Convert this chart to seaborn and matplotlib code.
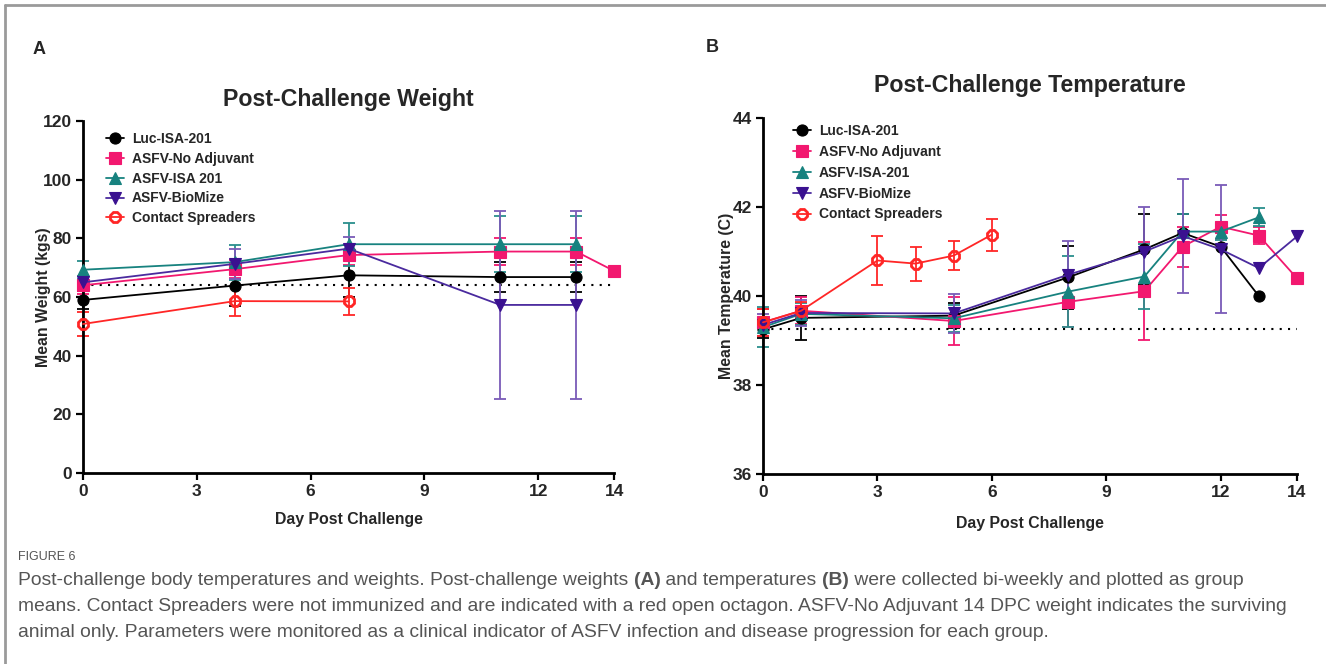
import numpy as np
import matplotlib
matplotlib.use("Agg")
import matplotlib.pyplot as plt
from matplotlib.lines import Line2D
import seaborn as sns

# ---- data ----
GROUPS = ["Luc-ISA-201", "ASFV-No Adjuvant", "ASFV-ISA 201", "ASFV-BioMize", "Contact Spreaders"]
GROUPS_TEMP = ["Luc-ISA-201", "ASFV-No Adjuvant", "ASFV-ISA-201", "ASFV-BioMize", "Contact Spreaders"]

# weight (kgs)
w_days = {
    "luc": [0, 4, 7, 11, 13],
    "noadj": [0, 4, 7, 11, 13, 14],
    "isa": [0, 4, 7, 11, 13],
    "bio": [0, 4, 7, 11, 13],
    "contact": [0, 4, 7],
}
w_mean = {
    "luc": [59.0, 63.9, 67.4, 66.8, 66.8],
    "noadj": [64.0, 69.5, 74.3, 75.5, 75.5, 68.9],
    "isa": [69.3, 71.9, 78.0, 78.0, 78.0],
    "bio": [65.0, 71.3, 76.5, 57.3, 57.3],
    "contact": [50.8, 58.6, 58.5],
}
w_err = {
    "luc": [3.0, 7.0, 7.5, 5.0, 5.0],
    "noadj": [3.0, 3.0, 3.5, 4.5, 4.5, 0.0],
    "isa": [3.0, 6.0, 7.4, 9.5, 9.5],
    "bio": [2.0, 5.0, 4.0, 32.0, 32.0],
    "contact": [4.0, 5.0, 4.5],
}
w_baseline = 64.0

# temperature (C)
t_days = {
    "luc": [0, 1, 5, 8, 10, 11, 12, 13],
    "noadj": [0, 1, 5, 8, 10, 11, 12, 13, 14],
    "isa": [0, 1, 5, 8, 10, 11, 12, 13],
    "bio": [0, 1, 5, 8, 10, 11, 12, 13, 14],
    "contact": [0, 1, 3, 4, 5, 6],
}
t_mean = {
    "luc": [39.25, 39.51, 39.56, 40.42, 41.05, 41.42, 41.11, 40.0],
    "noadj": [39.41, 39.67, 39.44, 39.87, 40.11, 41.11, 41.56, 41.36, 40.40],
    "isa": [39.3, 39.6, 39.5, 40.10, 40.44, 41.45, 41.45, 41.77],
    "bio": [39.35, 39.62, 39.61, 40.48, 41.0, 41.35, 41.05, 40.63, 41.34],
    "contact": [39.41, 39.67, 40.80, 40.73, 40.91, 41.38],
}
t_err = {
    "luc": [0.2, 0.49, 0.28, 0.7, 0.8, 0.43, 0.0, 0.0],
    "noadj": [0.3, 0.3, 0.53, 0.57, 1.1, 0.45, 0.27, 0.2, 0.0],
    "isa": [0.45, 0.25, 0.3, 0.8, 0.72, 0.4, 0.2, 0.2],
    "bio": [0.25, 0.3, 0.44, 0.75, 1.0, 1.28, 1.44, 0.0, 0.0],
    "contact": [0.3, 0.2, 0.54, 0.38, 0.33, 0.36],
}
t_baseline = 39.25

x_ticks = [0, 3, 6, 9, 12, 14]
w_yticks = [0, 20, 40, 60, 80, 100, 120]
t_yticks = [36, 38, 40, 42, 44]

KEYS = ["luc", "noadj", "isa", "bio", "contact"]
STYLE = {
    "luc": dict(color="#000000", ecolor="#000000", marker="o", ms=8, mfc="#000000"),
    "noadj": dict(color="#F2186F", ecolor="#F2186F", marker="s", ms=8, mfc="#F2186F"),
    "isa": dict(color="#17827F", ecolor="#2A8F8C", marker="^", ms=8, mfc="#17827F"),
    "bio": dict(color="#4A2A9E", ecolor="#7A5BB8", marker="v", ms=8, mfc="#3A1190"),
    "contact": dict(color="#FF2626", ecolor="#FF2626", marker="8", ms=8, mfc="none"),
}

sns.set_theme(style="ticks")
plt.rcParams["font.family"] = ["Liberation Sans", "DejaVu Sans"]


def draw_panel(ax, days, means, errs, labels, baseline, ylim, yticks):
    for key, lab in zip(KEYS, labels):
        st = STYLE[key]
        d = np.array(days[key])
        m = np.array(means[key])
        e = np.array(errs[key])
        has = e > 0
        ax.errorbar(d[has], m[has], yerr=e[has], fmt="none", ecolor=st["ecolor"],
                    elinewidth=1.3, capsize=4, capthick=1.3, clip_on=False, zorder=2)
        hollow = st["mfc"] == "none"
        sns.lineplot(x=d, y=m, ax=ax, color=st["color"], marker=st["marker"],
                     markersize=st["ms"], markerfacecolor=st["mfc"],
                     markeredgecolor=st["color"] if hollow else st["mfc"],
                     markeredgewidth=2 if hollow else 0.8,
                     linewidth=1.3, sort=False, errorbar=None, label=lab,
                     clip_on=False, zorder=3)
    # dotted baseline (pre-challenge mean)
    ax.axhline(baseline, color="black", linestyle=(0, (1, 3)), linewidth=1.5, zorder=1)
    ax.set_xlim(0, 14)
    ax.set_ylim(*ylim)
    ax.set_xticks(x_ticks)
    ax.set_yticks(yticks)
    for sp in ["top", "right"]:
        ax.spines[sp].set_visible(False)
    for sp in ["left", "bottom"]:
        ax.spines[sp].set_linewidth(2)
        ax.spines[sp].set_color("black")
    ax.tick_params(axis="both", length=5, width=1.6, color="black", pad=3)
    for t in ax.get_xticklabels() + ax.get_yticklabels():
        t.set_fontweight("bold")
        t.set_fontsize(12.5)
    ax.set_xlabel("Day Post Challenge", fontsize=11.4, fontweight="bold")
    ax.grid(False)


fig = plt.figure(figsize=(13.26, 6.64), dpi=100)
ax_a = fig.add_axes([0.0626, 0.2877, 0.4005, 0.530])
ax_b = fig.add_axes([0.5754, 0.2861, 0.4027, 0.536])

draw_panel(ax_a, w_days, w_mean, w_err, GROUPS, w_baseline, (0, 120), w_yticks)
draw_panel(ax_b, t_days, t_mean, t_err, GROUPS_TEMP, t_baseline, (36, 44), t_yticks)

ax_a.set_ylabel("Mean Weight (kgs)", fontsize=11.4, fontweight="bold")
ax_b.set_ylabel("Mean Temperature (C)", fontsize=11.4, fontweight="bold")
ax_a.yaxis.set_label_coords(-0.060, 0.5)
ax_b.yaxis.set_label_coords(-0.054, 0.5)
ax_a.xaxis.set_label_coords(0.5, -0.111)
ax_b.xaxis.set_label_coords(0.5, -0.118)

ax_a.set_title("Post-Challenge Weight", fontsize=16.7, fontweight="bold", pad=11)
ax_b.set_title("Post-Challenge Temperature", fontsize=16.7, fontweight="bold", pad=19)

ax_a.legend(loc="upper left", bbox_to_anchor=(0.032, 0.985), frameon=False,
            handlelength=1.3, handletextpad=0.6, labelspacing=0.42,
            borderaxespad=0, prop=dict(weight="bold", size=10))
ax_b.legend(loc="upper left", bbox_to_anchor=(0.045, 1.0), frameon=False,
            handlelength=1.3, handletextpad=0.6, labelspacing=0.5,
            borderaxespad=0, prop=dict(weight="bold", size=10))

fig.text(33 / 1326, 1 - 50 / 664, "A", fontsize=13, fontweight="bold", va="center")
fig.text(706 / 1326, 1 - 48 / 664, "B", fontsize=13, fontweight="bold", va="center")

# figure frame (top and left edges only)
fig.add_artist(Line2D([5 / 1326, 1], [1 - 5 / 664, 1 - 5 / 664], color="#9a9a9a", lw=2))
fig.add_artist(Line2D([5 / 1326, 5 / 1326], [0, 1 - 5 / 664], color="#9a9a9a", lw=2))

# caption
cap_color = "#555555"
cs = 13.9
fig.text(18 / 1326, 1 - 557 / 664, "FIGURE 6", fontsize=9, color=cap_color, va="center")
prev = fig.text(18 / 1326, 1 - 585 / 664,
                "Post-challenge body temperatures and weights. Post-challenge weights ",
                fontsize=cs, color=cap_color, va="baseline")
# first line mixes bold panel letters, chain each piece after the previous one
pieces = [("(A)", "bold"), (" and temperatures ", "normal"), ("(B)", "bold"),
          (" were collected bi-weekly and plotted as group", "normal")]
for txt, wt in pieces:
    prev = ax_a.annotate(txt, xy=(1, 0), xycoords=prev, va="bottom", ha="left",
                         fontsize=cs, color=cap_color, fontweight=wt,
                         annotation_clip=False)
caption_lines = [
    "means. Contact Spreaders were not immunized and are indicated with a red open octagon. ASFV-No Adjuvant 14 DPC weight indicates the surviving",
    "animal only. Parameters were monitored as a clinical indicator of ASFV infection and disease progression for each group.",
]
for i, line in enumerate(caption_lines):
    fig.text(18 / 1326, 1 - (585 + 26 * (i + 1)) / 664, line, fontsize=cs,
             color=cap_color, va="baseline")

fig.savefig("out.png", dpi=100)
